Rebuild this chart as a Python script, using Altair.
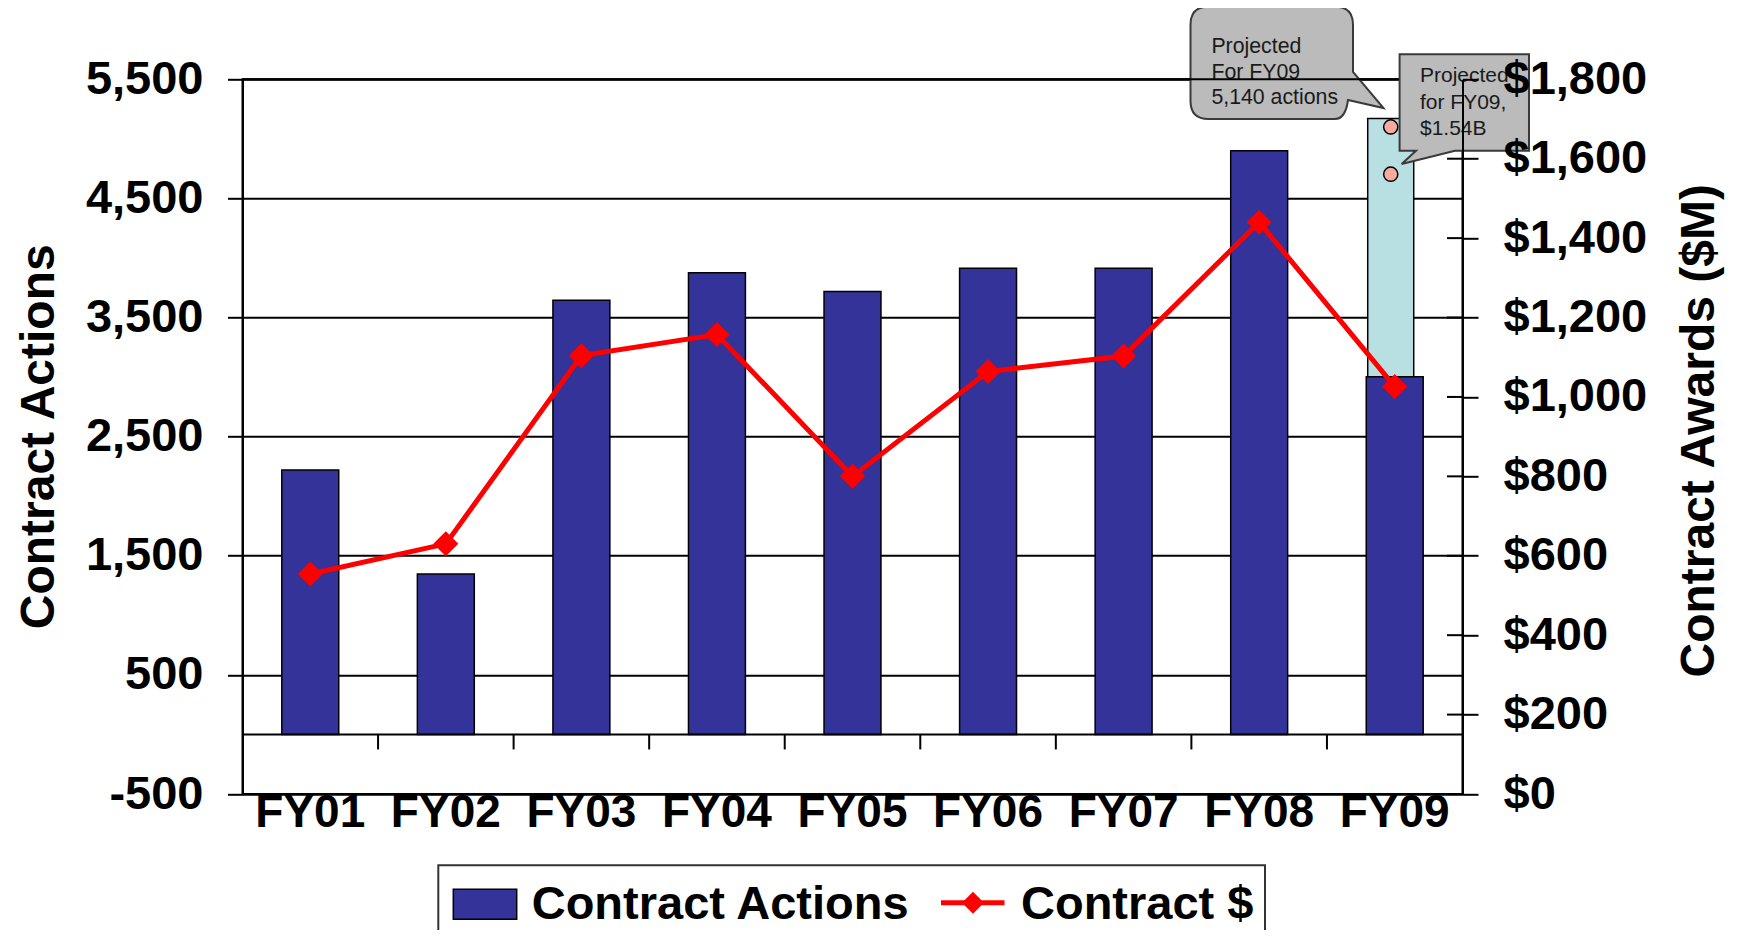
import altair as alt
import pandas as pd

# ---------------- data ----------------
years = ["FY01", "FY02", "FY03", "FY04", "FY05", "FY06", "FY07", "FY08", "FY09"]
contract_actions = [2220, 1347, 3645, 3877, 3719, 3913, 3913, 4900, 3003]
contract_dollars = [554, 630, 1104, 1157, 800, 1064, 1103, 1440, 1026]
projected_year = "FY09"
projected_actions = 5170          # top of light-blue projected segment
projected_actions_marker = 5100   # pink marker (left axis)
projected_dollars_marker = 1561   # pink marker (right axis, $M)

left_ticks = [-500, 500, 1500, 2500, 3500, 4500, 5500]
right_ticks = [0, 200, 400, 600, 800, 1000, 1200, 1400, 1600, 1800]

callout_actions_lines = ["Projected", "For FY09", "5,140 actions"]
callout_dollars_lines = ["Projected", "for FY09,", "$1.54B"]
legend_labels = ["Contract Actions", "Contract $"]
left_title = "Contract Actions"
right_title = "Contract Awards ($M)"

# ---------------- layout / style ----------------
FONT = "Liberation Sans"
W, H = 1220, 714.7
STEP = W / len(years)
NAVY = "#333399"
LIGHT = "#B8E0E3"
PINK = "#F7AAA0"
RED = "#FF0000"
GRAY = "#BBBBBB"
EDGE = "#3a3a3a"

df = pd.DataFrame({"year": years, "actions": contract_actions, "dollars": contract_dollars})
proj_df = pd.DataFrame({"year": [projected_year], "top": [projected_actions],
                        "base": [contract_actions[years.index(projected_year)]]})
one = pd.DataFrame({"k": [0]})

x_scale = alt.Scale(domain=years, paddingInner=0.58, paddingOuter=0.29)
yL = alt.Scale(domain=[-500, 5500], nice=False, zero=False)
yR = alt.Scale(domain=[0, 1800], nice=False, zero=False)
ZERO_PX = H * 5500 / 6000  # pixel row of value 0 on the left scale (for tick length only)

x_plain = alt.X("year:N", scale=x_scale, axis=None)

left_axis = alt.Axis(
    values=left_ticks, labelExpr="replace(format(datum.value, ','), '\u2212', '-')",
    labelFontSize=47, labelFontWeight="bold", labelColor="black", labelPadding=24.5,
    tickSize=15, tickWidth=2, tickColor="black", domainColor="black", domainWidth=2,
    grid=True, gridColor="black", gridWidth=2, gridOpacity=1,
    title=left_title, titleFontSize=48, titleFontWeight="bold", titleColor="black",
    titleX=-189.5, titleY=357, titleAngle=270, titleAlign="center",
    titleBaseline="alphabetic", labelFont=FONT, titleFont=FONT,
)
right_axis = alt.Axis(
    orient="right", values=right_ticks, format="$,.0f",
    labelFontSize=47, labelFontWeight="bold", labelColor="black", labelPadding=25,
    tickSize=15.5, tickWidth=2, tickColor="black", domainColor="black", domainWidth=2,
    grid=False, title=right_title, titleFontSize=48, titleFontWeight="bold",
    titleColor="black", titleX=250.5, titleY=351, titleAngle=270, titleAlign="center",
    titleBaseline="alphabetic", zindex=1, labelFont=FONT, titleFont=FONT,
)

# ---------------- data marks ----------------
proj_bar = alt.Chart(proj_df).mark_bar(
    width=46, xOffset=-4, fill=LIGHT, stroke="black", strokeWidth=1.5, opacity=1
).encode(x=x_plain, y=alt.Y("top:Q", scale=yL, axis=None), y2="base:Q")

bars = alt.Chart(df).mark_bar(
    fill=NAVY, stroke="black", strokeWidth=1.5, opacity=1
).encode(x=x_plain, y=alt.Y("actions:Q", scale=yL, axis=left_axis), y2=alt.datum(0))

circle_left = alt.Chart(
    pd.DataFrame({"year": [projected_year], "v": [projected_actions_marker]})
).mark_point(shape="circle", filled=True, fill=PINK, stroke="black", strokeWidth=1.5,
             size=200, xOffset=-4, opacity=1
).encode(x=x_plain, y=alt.Y("v:Q", scale=yL, axis=None))

# x "axis": zero line, interval ticks and category labels
zero_line = alt.Chart(one).mark_rule(color="black", strokeWidth=2).encode(
    y=alt.YDatum(0, scale=yL, axis=None), x=alt.value(0), x2=alt.value(W))
x_ticks = alt.Chart(pd.DataFrame({"year": years[:-1]})).mark_rule(
    color="black", strokeWidth=2, xOffset=STEP / 2).encode(
    x=x_plain, y=alt.value(ZERO_PX), y2=alt.value(ZERO_PX + 15))
x_labels = alt.Chart(pd.DataFrame({"year": years})).mark_text(
    font=FONT, fontSize=46, fontWeight="bold", color="black", baseline="alphabetic",
    align="center").encode(x=x_plain, y=alt.value(747.7), text="year:N")

line = alt.Chart(df).mark_line(color=RED, strokeWidth=5, opacity=1).encode(
    x=x_plain, y=alt.Y("dollars:Q", scale=yR, axis=right_axis))
diamonds = alt.Chart(df).mark_point(shape="diamond", filled=True, color=RED, size=625,
                                    opacity=1).encode(
    x=x_plain, y=alt.Y("dollars:Q", scale=yR, axis=None))
circle_right = alt.Chart(
    pd.DataFrame({"year": [projected_year], "v": [projected_dollars_marker]})
).mark_point(shape="circle", filled=True, fill=PINK, stroke="black", strokeWidth=1.5,
             size=200, xOffset=-4, opacity=1
).encode(x=x_plain, y=alt.Y("v:Q", scale=yR, axis=None))

# inner half of the crossing ticks on the right axis
inner_ticks = alt.Chart(pd.DataFrame({"v": right_ticks[1:-1]})).mark_rule(
    color="black", strokeWidth=2).encode(
    y=alt.Y("v:Q", scale=yR, axis=None), x=alt.value(W - 15.5), x2=alt.value(W))

# ---------------- callouts (custom symbol paths, size=4 -> 1 unit = 1 px) ----------------
callout1_path = ("M 18 0 H 144.5 Q 162.5 0 162.5 18 V 65.3 L 193 101.3 L 157.5 93.3 "
                 "Q 155 112.3 144.5 112.3 H 18 Q 0 112.3 0 94.3 V 18 Q 0 0 18 0 Z")
callout2_path = "M 0 0 H 129.4 V 96.4 H 55.4 L 2.1 109.7 L 16.4 96.4 H 0 Z"

box1 = alt.Chart(one).mark_point(shape=callout1_path, size=4, filled=True, fill=GRAY,
                                 stroke=EDGE, strokeWidth=2, opacity=1).encode(
    x=alt.value(948), y=alt.value(-72.6))
text1 = alt.Chart(one).mark_text(align="left", baseline="alphabetic", font=FONT,
                                 fontSize=21.3, color="#1a1a1a", lineBreak="\n",
                                 lineHeight=25.4).encode(
    x=alt.value(968.9), y=alt.value(-26), text=alt.value("\n".join(callout_actions_lines)))

top_rule = alt.Chart(one).mark_rule(color="black", strokeWidth=2).encode(
    x=alt.value(0), x2=alt.value(W), y=alt.value(0))

box2 = alt.Chart(one).mark_point(shape=callout2_path, size=4, filled=True, fill=GRAY,
                                 stroke=EDGE, strokeWidth=2, opacity=1).encode(
    x=alt.value(1157.1), y=alt.value(-25))
text2 = alt.Chart(one).mark_text(align="left", baseline="alphabetic", font=FONT,
                                 fontSize=21, color="#1a1a1a", lineBreak="\n",
                                 lineHeight=26.5).encode(
    x=alt.value(1177.5), y=alt.value(2.7), text=alt.value("\n".join(callout_dollars_lines)))

# ---------------- legend ----------------
leg_box = alt.Chart(one).mark_rect(fill="white", stroke="#333333", strokeWidth=2,
                                   opacity=1).encode(
    x=alt.value(195.8), x2=alt.value(1022.5), y=alt.value(786), y2=alt.value(880))
leg_swatch = alt.Chart(one).mark_rect(fill=NAVY, stroke="black", strokeWidth=1.5,
                                      opacity=1).encode(
    x=alt.value(210.8), x2=alt.value(274.2), y=alt.value(810), y2=alt.value(840))
leg_text1 = alt.Chart(one).mark_text(align="left", baseline="alphabetic", font=FONT,
                                     fontSize=47, fontWeight="bold", color="black").encode(
    x=alt.value(289.2), y=alt.value(840), text=alt.value(legend_labels[0]))
leg_line = alt.Chart(one).mark_rule(color=RED, strokeWidth=5).encode(
    x=alt.value(698.5), x2=alt.value(762), y=alt.value(823.4))
leg_diamond = alt.Chart(one).mark_point(shape="diamond", filled=True, color=RED, size=480,
                                        opacity=1).encode(
    x=alt.value(730.5), y=alt.value(823.4))
leg_text2 = alt.Chart(one).mark_text(align="left", baseline="alphabetic", font=FONT,
                                     fontSize=47, fontWeight="bold", color="black").encode(
    x=alt.value(778.5), y=alt.value(840), text=alt.value(legend_labels[1]))

chart = alt.layer(
    proj_bar, bars, circle_left, zero_line, x_ticks, x_labels,
    line, diamonds, circle_right, inner_ticks,
    box1, text1, top_rule, box2, text2,
    leg_box, leg_swatch, leg_text1, leg_line, leg_diamond, leg_text2,
).resolve_scale(y="independent").properties(
    width=W, height=H,
    autosize=alt.AutoSizeParams(type="none"),
    padding={"left": 234.5, "top": 71.3, "right": 266.5, "bottom": 136},
).configure(font=FONT).configure_view(stroke="black", strokeWidth=2)

chart.save("out.html", embed_options={"renderer": "svg", "actions": False})
